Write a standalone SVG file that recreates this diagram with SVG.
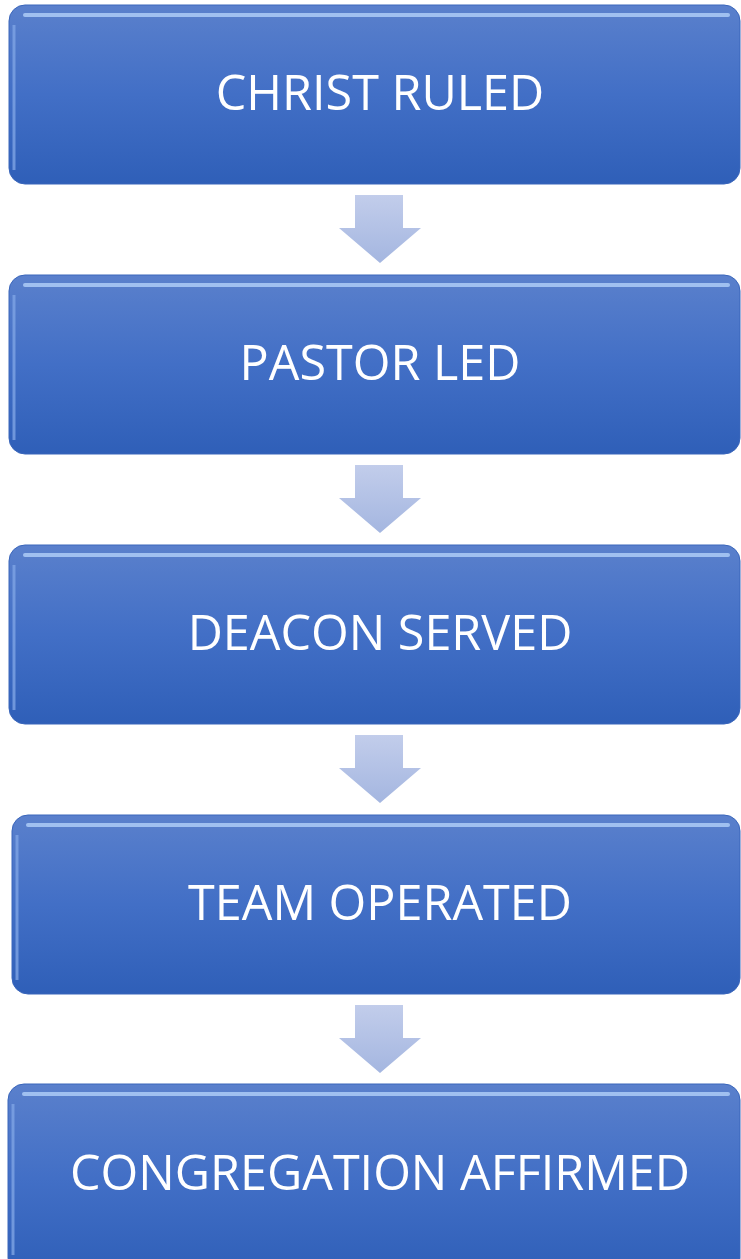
<svg xmlns="http://www.w3.org/2000/svg" width="741" height="1259" viewBox="0 0 741 1259">
<style>
.lbl{font-family:"Open Sans","Liberation Sans",sans-serif;font-size:48.5px;fill:#ffffff;text-anchor:middle}
.box{fill:url(#bg);stroke:#3a66bb;stroke-width:1}
.hl{fill:none;stroke:#a8c8f4;stroke-width:4;stroke-linecap:round;opacity:0.9}
.hl2{fill:none;stroke:#7ea4e4;stroke-width:3;opacity:0.8}
.arr{fill:url(#ag)}
</style>
<defs>
<linearGradient id="bg" x1="0" y1="0" x2="0" y2="1">
<stop offset="0" stop-color="#5a80cc"/>
<stop offset="0.5" stop-color="#426fc6"/>
<stop offset="1" stop-color="#2f5fb8"/>
</linearGradient>
<linearGradient id="ag" x1="0" y1="0" x2="0" y2="1">
<stop offset="0" stop-color="#c2cdeb"/>
<stop offset="1" stop-color="#a4b6e0"/>
</linearGradient>
</defs>
<g id="node1">
<rect class="box" x="9" y="5" width="731" height="179" rx="16"/>
<path class="hl" d="M25 15 H728"/>
<path class="hl2" d="M14 25 V170"/>
<text class="lbl" x="380" y="110">CHRIST RULED</text>
</g>
<g id="node2">
<rect class="box" x="9" y="275" width="731" height="179" rx="16"/>
<path class="hl" d="M25 285 H728"/>
<path class="hl2" d="M14 295 V440"/>
<text class="lbl" x="380" y="380">PASTOR LED</text>
</g>
<g id="node3">
<rect class="box" x="9" y="545" width="731" height="179" rx="16"/>
<path class="hl" d="M25 555 H728"/>
<path class="hl2" d="M14 565 V710"/>
<text class="lbl" x="380" y="650">DEACON SERVED</text>
</g>
<g id="node4">
<rect class="box" x="12" y="815" width="728" height="179" rx="16"/>
<path class="hl" d="M28 825 H728"/>
<path class="hl2" d="M17 835 V980"/>
<text class="lbl" x="380" y="920">TEAM OPERATED</text>
</g>
<g id="node5">
<rect class="box" x="8" y="1084" width="732" height="190" rx="16"/>
<path class="hl" d="M24 1094 H728"/>
<path class="hl2" d="M13 1104 V1255"/>
<text class="lbl" x="380" y="1190">CONGREGATION AFFIRMED</text>
</g>
<g id="connectors">
<path class="arr" d="M355 195 H403 V228 H421 L380 263 L339 228 H355 Z"/>
<path class="arr" d="M355 465 H403 V498 H421 L380 533 L339 498 H355 Z"/>
<path class="arr" d="M355 735 H403 V768 H421 L380 803 L339 768 H355 Z"/>
<path class="arr" d="M355 1005 H403 V1038 H421 L380 1073 L339 1038 H355 Z"/>
</g>
</svg>
